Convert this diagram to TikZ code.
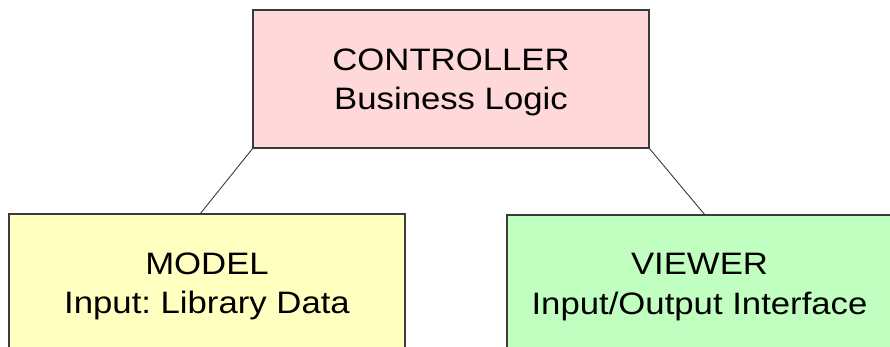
\documentclass[tikz,border=0pt]{standalone}
\usepackage{fontspec}
\newfontfamily\boxfont[FakeStretch=1.12]{Liberation Sans}
\frenchspacing
\definecolor{ctrlpink}{HTML}{FFD9D9}
\definecolor{modelyellow}{HTML}{FFFFC0}
\definecolor{viewgreen}{HTML}{C0FFC0}
\definecolor{edgegray}{HTML}{3A3A3A}
\begin{document}
\begin{tikzpicture}[
    x=1pt, y=-1pt,
    part/.style={rectangle, draw=edgegray, line width=1.6pt, minimum width=396pt, minimum height=138pt, outer sep=0pt, align=center, text depth=0pt, font=\boxfont\fontsize{31}{39.5}\selectfont},
    link/.style={draw=edgegray, line width=0.9pt}
]
\useasboundingbox (0,0) rectangle (890,346);

% Controller on top
\node[part, fill=ctrlpink] (ctrl) at (451,79) {CONTROLLER\\Business Logic};

% Model and viewer below
\node[part, fill=modelyellow] (model) at (207,283) {MODEL\\Input: Library Data};
\node[part, fill=viewgreen, minimum width=385pt] (viewer) at (699.5,284) {VIEWER\\Input/Output Interface};

% Links
\draw[link] (ctrl.south west) -- ([xshift=-7pt]model.north);
\draw[link] (ctrl.south east) -- ([xshift=5.5pt]viewer.north);

\end{tikzpicture}
\end{document}
